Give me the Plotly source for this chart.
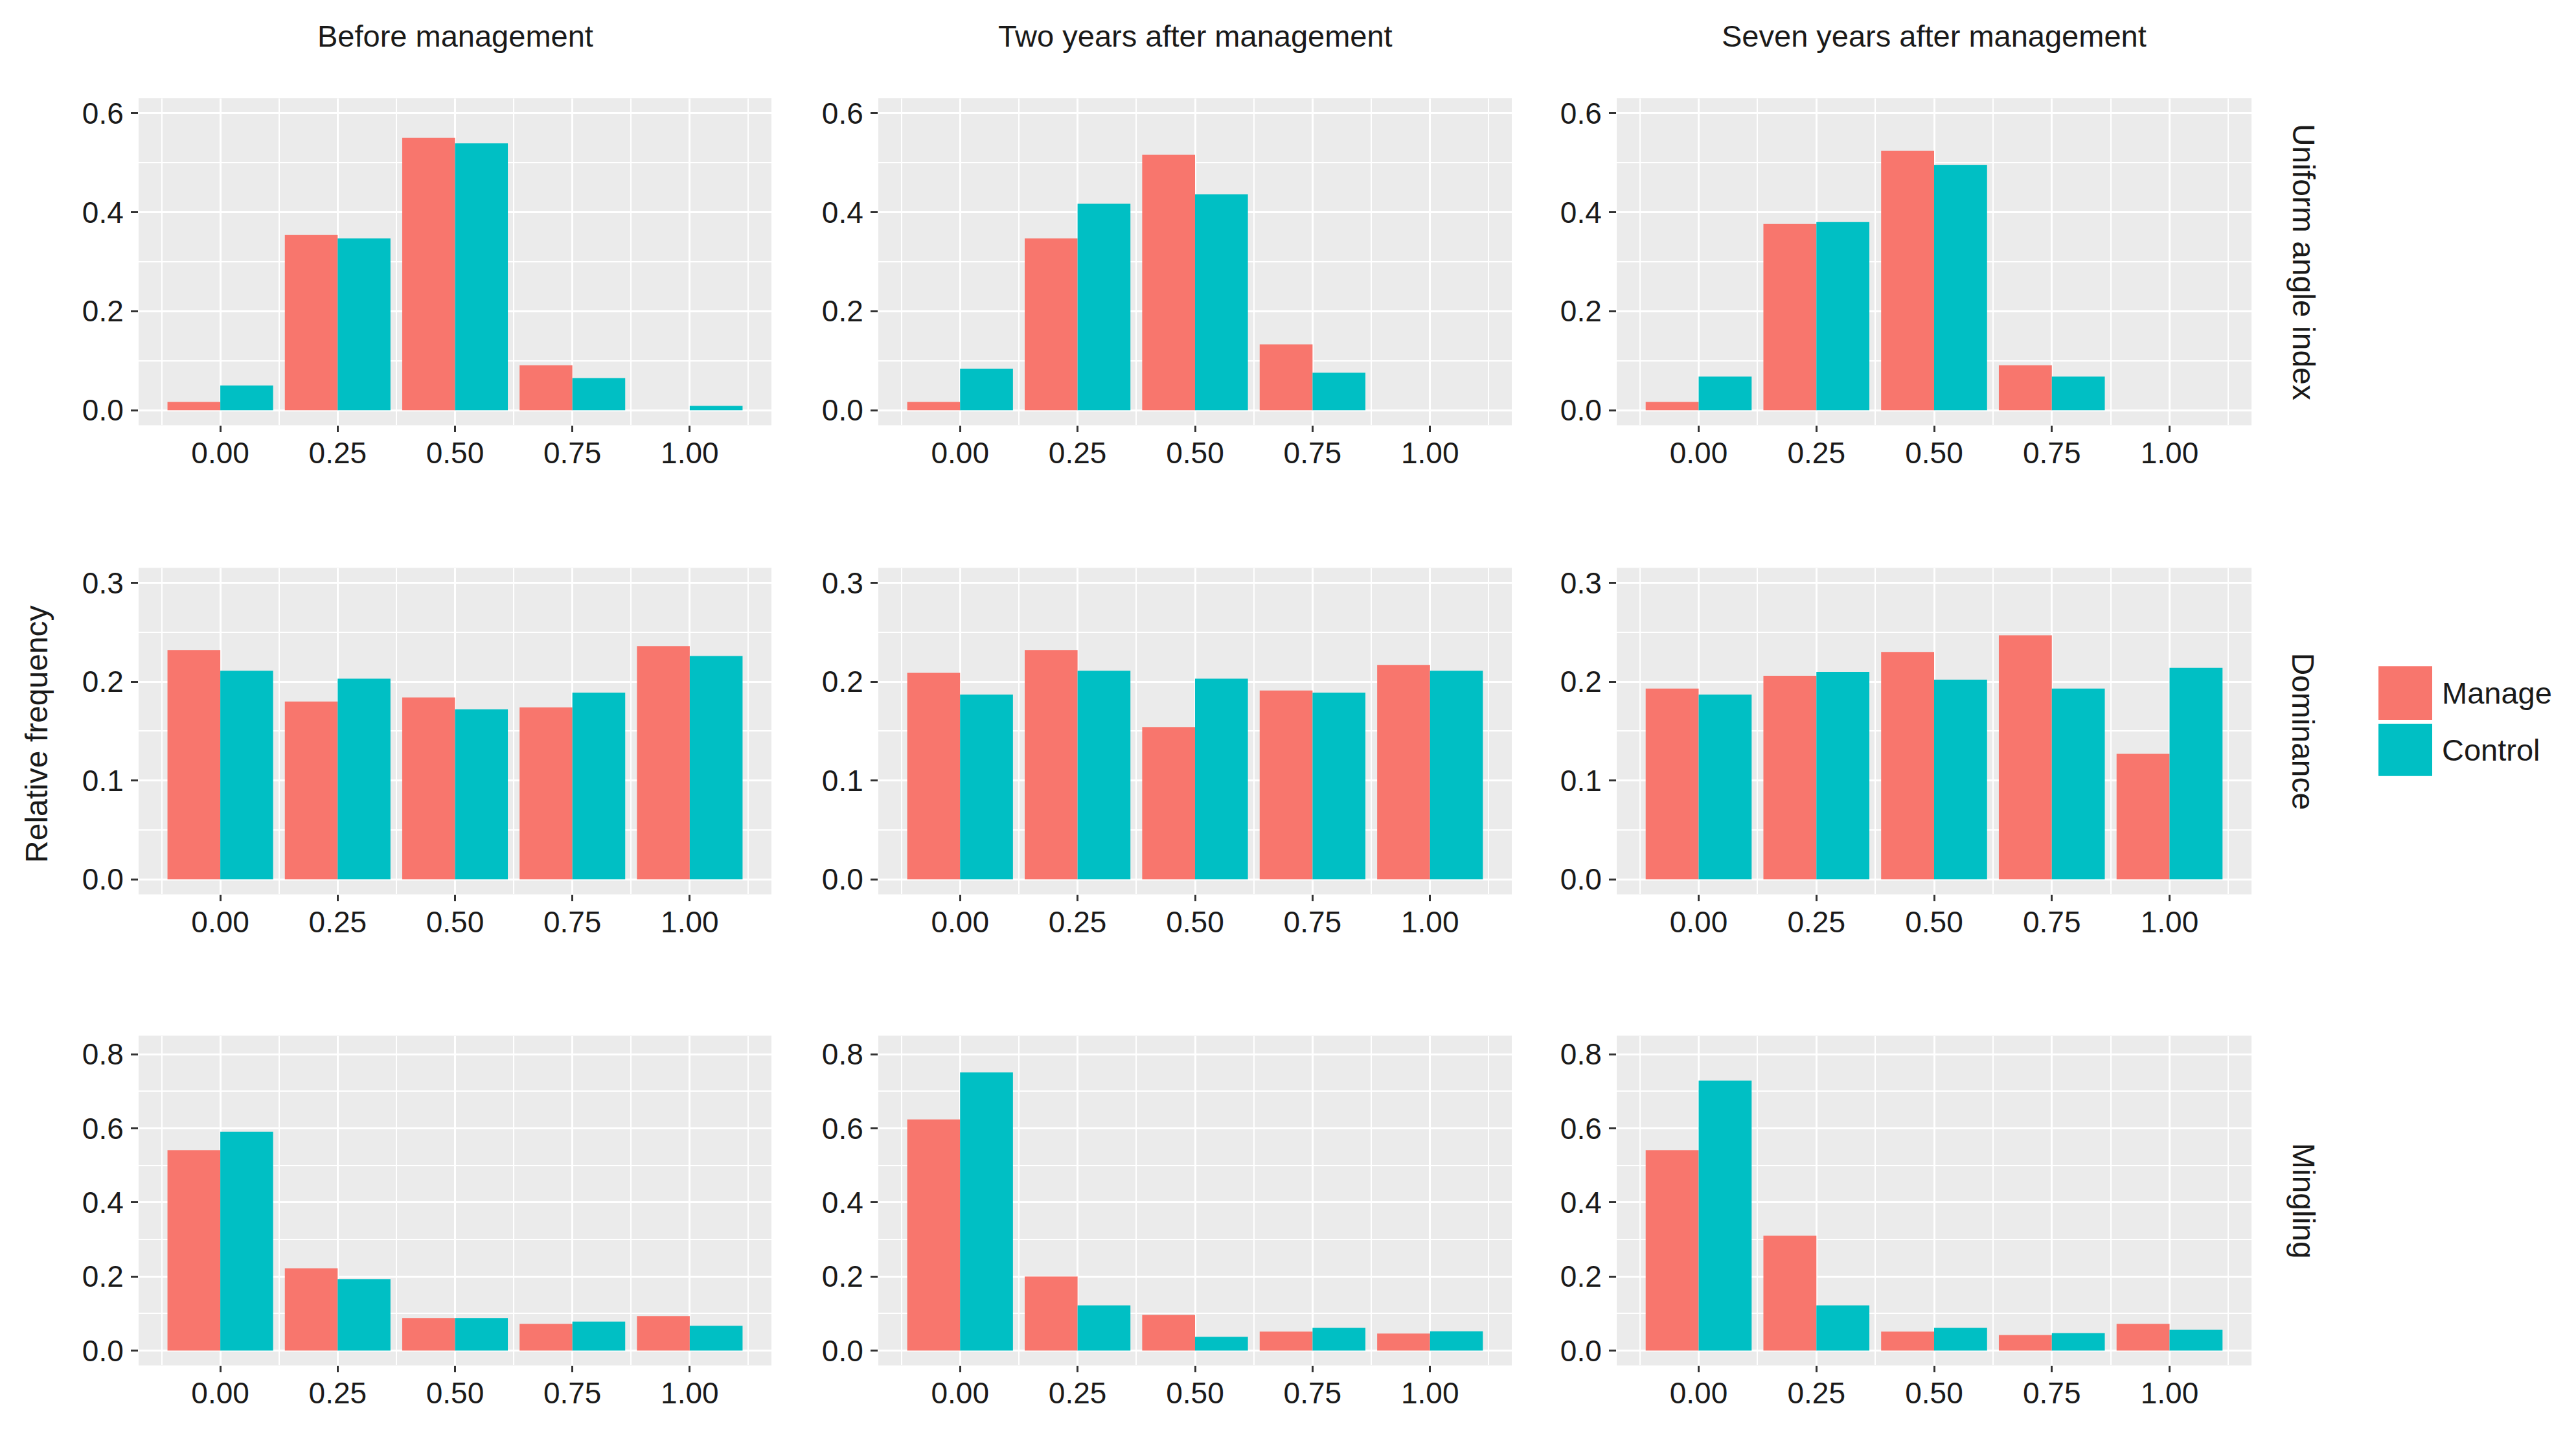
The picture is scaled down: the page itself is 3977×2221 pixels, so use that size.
import plotly.graph_objects as go

# ---------------- data ----------------
categories = [0.00, 0.25, 0.50, 0.75, 1.00]
tick_labels = ["0.00", "0.25", "0.50", "0.75", "1.00"]
col_titles = ["Before management", "Two years after management", "Seven years after management"]
row_titles = ["Uniform angle index", "Dominance", "Mingling"]
group_names = ["Manage", "Control"]

uniform_before_manage = [0.017, 0.354, 0.550, 0.091, 0.000]
uniform_before_control = [0.050, 0.347, 0.539, 0.065, 0.009]
uniform_two_manage = [0.017, 0.347, 0.516, 0.133, 0.000]
uniform_two_control = [0.084, 0.417, 0.436, 0.076, 0.000]
uniform_seven_manage = [0.017, 0.376, 0.524, 0.091, 0.000]
uniform_seven_control = [0.068, 0.380, 0.495, 0.068, 0.000]

dominance_before_manage = [0.232, 0.180, 0.184, 0.174, 0.236]
dominance_before_control = [0.211, 0.203, 0.172, 0.189, 0.226]
dominance_two_manage = [0.209, 0.232, 0.154, 0.191, 0.217]
dominance_two_control = [0.187, 0.211, 0.203, 0.189, 0.211]
dominance_seven_manage = [0.193, 0.206, 0.230, 0.247, 0.127]
dominance_seven_control = [0.187, 0.210, 0.202, 0.193, 0.214]

mingling_before_manage = [0.541, 0.222, 0.088, 0.072, 0.093]
mingling_before_control = [0.591, 0.193, 0.088, 0.078, 0.067]
mingling_two_manage = [0.624, 0.200, 0.096, 0.051, 0.046]
mingling_two_control = [0.751, 0.122, 0.037, 0.061, 0.052]
mingling_seven_manage = [0.541, 0.310, 0.051, 0.042, 0.072]
mingling_seven_control = [0.729, 0.122, 0.061, 0.047, 0.056]

y_ranges = [[-0.03, 0.63], [-0.015, 0.315], [-0.04, 0.85]]
y_dticks = [0.2, 0.1, 0.2]

# ---------------- styling ----------------
W, H = 3977, 2221
FONT = "Liberation Sans, Arial, Helvetica, sans-serif"
colors = {"Manage": "#F8766D", "Control": "#00BFC4"}
panel_bg = "#EBEBEB"

col_px = [(214, 1191), (1356, 2334), (2496, 3476)]
row_px = [(149, 655), (876, 1381), (1600, 2110)]

panels = [
    [(uniform_before_manage, uniform_before_control),
     (uniform_two_manage, uniform_two_control),
     (uniform_seven_manage, uniform_seven_control)],
    [(dominance_before_manage, dominance_before_control),
     (dominance_two_manage, dominance_two_control),
     (dominance_seven_manage, dominance_seven_control)],
    [(mingling_before_manage, mingling_before_control),
     (mingling_two_manage, mingling_two_control),
     (mingling_seven_manage, mingling_seven_control)],
]

fig = go.Figure()
layout_axes = {}
for r in range(3):
    for c in range(3):
        idx = r * 3 + c + 1
        xa = "x" if idx == 1 else f"x{idx}"
        ya = "y" if idx == 1 else f"y{idx}"
        manage_vals, control_vals = panels[r][c]
        for name, vals in zip(group_names, (manage_vals, control_vals)):
            fig.add_trace(go.Bar(
                x=categories, y=vals, name=name, xaxis=xa, yaxis=ya,
                marker=dict(color=colors[name], line=dict(width=0)),
                showlegend=False,
            ))
        x0, x1 = col_px[c]
        y0, y1 = row_px[r]
        xkey = "xaxis" if idx == 1 else f"xaxis{idx}"
        ykey = "yaxis" if idx == 1 else f"yaxis{idx}"
        layout_axes[xkey] = dict(
            domain=[x0 / W, x1 / W], anchor=ya, range=[-0.174, 1.174],
            tickmode="array", tickvals=categories, ticktext=tick_labels,
            ticks="outside", ticklen=10, tickwidth=2.5, tickcolor="#333333",
            ticklabelstandoff=-7,
            tickfont=dict(size=46, color="#1a1a1a", family=FONT),
            showgrid=True, gridcolor="white", gridwidth=3,
            minor=dict(dtick=0.125, tick0=0, showgrid=True, gridcolor="white", gridwidth=1.5, ticks=""),
            showline=False, zeroline=False, fixedrange=True,
        )
        layout_axes[ykey] = dict(
            domain=[1 - y1 / H, 1 - y0 / H], anchor=xa, range=y_ranges[r],
            tick0=0, dtick=y_dticks[r], tickformat=".1f",
            ticks="outside", ticklen=11, tickwidth=2.5, tickcolor="#333333",
            ticklabelstandoff=2,
            tickfont=dict(size=46, color="#1a1a1a", family=FONT),
            showgrid=True, gridcolor="white", gridwidth=3,
            minor=dict(dtick=y_dticks[r] / 2, tick0=0, showgrid=True, gridcolor="white", gridwidth=1.5, ticks=""),
            showline=False, zeroline=False, fixedrange=True,
        )

annotations = []
shapes = []
# panel backgrounds
for r in range(3):
    for c in range(3):
        x0, x1 = col_px[c]
        y0, y1 = row_px[r]
        shapes.append(dict(type="rect", xref="paper", yref="paper",
                           x0=x0 / W, x1=x1 / W, y0=1 - y1 / H, y1=1 - y0 / H,
                           fillcolor=panel_bg, line=dict(width=0), layer="below"))
# column titles
for c, t in enumerate(col_titles):
    x0, x1 = col_px[c]
    annotations.append(dict(text=t, xref="paper", yref="paper", x=(x0 + x1) / 2 / W, y=1 - 53 / H,
                            xanchor="center", yanchor="middle", showarrow=False,
                            font=dict(size=47, color="#1a1a1a", family=FONT)))
# row strip labels
for r, t in enumerate(row_titles):
    y0, y1 = row_px[r]
    annotations.append(dict(text=t, xref="paper", yref="paper", x=3556 / W, y=1 - (y0 + y1) / 2 / H,
                            xanchor="center", yanchor="middle", showarrow=False, textangle=90,
                            font=dict(size=48, color="#1a1a1a", family=FONT)))
# y-axis title
annotations.append(dict(text="Relative frequency", xref="paper", yref="paper", x=57 / W, y=1 - 1133 / H,
                        xanchor="center", yanchor="middle", showarrow=False, textangle=-90,
                        font=dict(size=48, color="#1a1a1a", family=FONT)))
# legend (manual keys)
key_rows = [(1028, 1111), (1117, 1198)]
for name, (ky0, ky1) in zip(group_names, key_rows):
    shapes.append(dict(type="rect", xref="paper", yref="paper",
                       x0=3672 / W, x1=3755 / W, y0=1 - ky1 / H, y1=1 - ky0 / H,
                       fillcolor=colors[name], line=dict(width=0)))
    annotations.append(dict(text=name, xref="paper", yref="paper", x=3768 / W, y=1 - (ky0 + ky1) / 2 / H,
                            xanchor="left", yanchor="middle", showarrow=False,
                            font=dict(size=47, color="#1a1a1a", family=FONT)))

fig.update_layout(
    width=W, height=H, margin=dict(l=0, r=0, t=0, b=0, pad=0),
    paper_bgcolor="white", plot_bgcolor=panel_bg,
    barmode="group", bargap=0.1, bargroupgap=0,
    font=dict(family=FONT, color="#1a1a1a"),
    annotations=annotations, shapes=shapes, showlegend=False,
    **layout_axes,
)

fig.write_html("out.html", config={"displayModeBar": False},
               post_script="document.body.style.margin='0';document.body.style.overflow='hidden';")
